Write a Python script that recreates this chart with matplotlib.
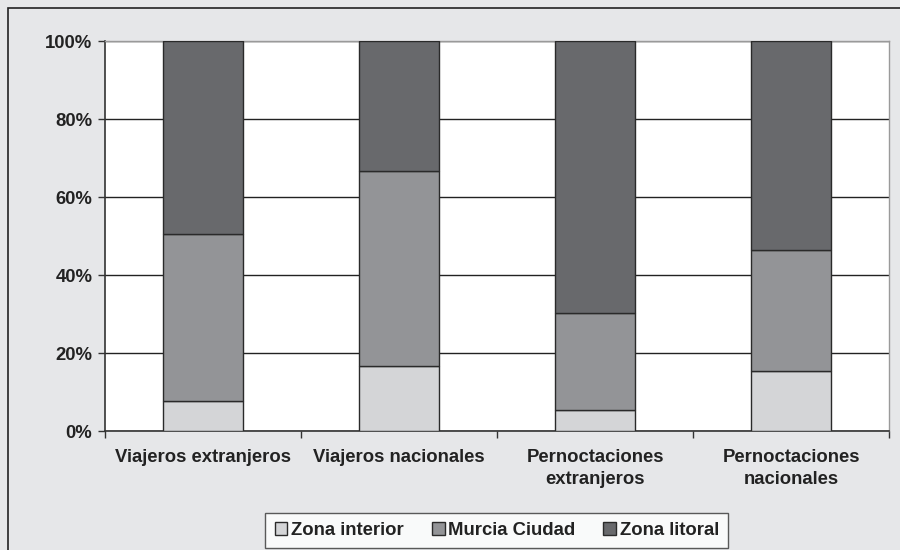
import matplotlib
matplotlib.use("Agg")
import matplotlib.pyplot as plt
from matplotlib.patches import Rectangle
import numpy as np

plt.rcParams['font.family'] = ['Liberation Sans', 'DejaVu Sans']

categories = ["Viajeros extranjeros", "Viajeros nacionales",
              "Pernoctaciones\nextranjeros", "Pernoctaciones\nnacionales"]
series_names = ["Zona interior", "Murcia Ciudad", "Zona litoral"]
zona_interior = [7.7, 16.7, 5.4, 15.4]
murcia_ciudad = [42.8, 50.0, 24.9, 31.0]
zona_litoral = [49.5, 33.3, 69.7, 53.6]
colors = ["#d4d5d7", "#939497", "#68696c"]
yticks = [0, 20, 40, 60, 80, 100]
ytick_labels = ["0%", "20%", "40%", "60%", "80%", "100%"]

FS = 13.3
W, H = 900, 550
fig = plt.figure(figsize=(9, 5.5), dpi=100)
fig.patch.set_facecolor("#e6e7e9")
# figure border (only top/left visible)
fig.add_artist(Rectangle((8 / W, -0.5), 2.0, 1 - 8 / H + 0.5, transform=fig.transFigure,
                         fill=False, edgecolor="#222222", linewidth=1.2))

ax = fig.add_axes([105 / W, 1 - 431 / H, (889 - 105) / W, (431 - 41) / H])
ax.set_facecolor("white")

x = np.arange(len(categories))
bottom = np.zeros(len(categories))
for vals, name, c in zip([zona_interior, murcia_ciudad, zona_litoral], series_names, colors):
    ax.bar(x, vals, width=0.405, bottom=bottom, color=c, edgecolor="#2a2a2a",
           linewidth=1.0, label=name, zorder=3)
    bottom += np.array(vals)

ax.set_xlim(-0.5, len(categories) - 0.5)
ax.set_ylim(0, 100)
ax.set_yticks(yticks)
ax.set_yticklabels(ytick_labels, fontsize=FS, fontweight="bold", color="#222222")
ax.yaxis.grid(True, color="#222222", linewidth=1.0, zorder=0)
ax.tick_params(axis="y", length=5, width=1, color="#333333", pad=4)

ax.set_xticks(x)
ax.set_xticklabels(categories, fontsize=FS, fontweight="bold", color="#222222",
                   linespacing=1.4)
ax.tick_params(axis="x", length=0, pad=13)
ax.set_xticks(np.arange(len(categories) + 1) - 0.5, minor=True)
ax.tick_params(axis="x", which="minor", length=5, width=1, color="#333333")

for s in ["left", "bottom"]:
    ax.spines[s].set_color("#333333")
    ax.spines[s].set_linewidth(1.2)
for s in ["right", "top"]:
    ax.spines[s].set_color("#9a9a9a")
    ax.spines[s].set_linewidth(1.0)

leg = fig.legend(loc="upper center", bbox_to_anchor=(0.552, 1 - 513 / H), ncol=3,
                 frameon=True, fancybox=False, edgecolor="#333333", facecolor="white",
                 prop={"weight": "bold", "size": FS}, handlelength=0.7, handleheight=0.7,
                 handletextpad=0.2, columnspacing=1.5, borderpad=0.5, borderaxespad=0)
leg.get_frame().set_linewidth(1.0)
for t in leg.get_texts():
    t.set_color("#222222")

fig.savefig("out.png", dpi=100, facecolor=fig.get_facecolor())
